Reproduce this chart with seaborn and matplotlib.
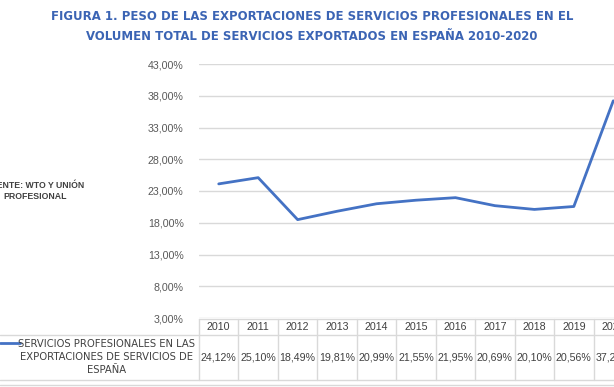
import numpy as np
import matplotlib
matplotlib.use("Agg")
import matplotlib.pyplot as plt
import matplotlib.transforms as mtransforms
import seaborn as sns
import pandas as pd

# datos del gráfico
years = ["2010", "2011", "2012", "2013", "2014", "2015", "2016", "2017", "2018", "2019", "2020"]
values = [24.12, 25.10, 18.49, 19.81, 20.99, 21.55, 21.95, 20.69, 20.10, 20.56, 37.20]
value_labels = ["24,12%", "25,10%", "18,49%", "19,81%", "20,99%", "21,55%", "21,95%",
                "20,69%", "20,10%", "20,56%", "37,20%"]
y_ticks = [3, 8, 13, 18, 23, 28, 33, 38, 43]
series_name = "SERVICIOS PROFESIONALES EN LAS\nEXPORTACIONES DE SERVICIOS DE\nESPAÑA"
title = ("FIGURA 1. PESO DE LAS EXPORTACIONES DE SERVICIOS PROFESIONALES EN EL\n"
         "VOLUMEN TOTAL DE SERVICIOS EXPORTADOS EN ESPAÑA 2010-2020")
source = "FUENTE: WTO Y UNIÓN\nPROFESIONAL"

df = pd.DataFrame({"pos": np.arange(len(years)), "valor": values})

sns.set_style("white")
plt.rcParams["font.family"] = ["Liberation Sans", "DejaVu Sans"]

W, H = 614, 387
fig = plt.figure(figsize=(W / 100, H / 100), dpi=100)
ax = fig.add_axes([199 / W, 1 - 318 / H, (633 - 199) / W, 254 / H])

line_color = "#4472C4"
grid_color = "#D9D9D9"
text_color = "#404040"

sns.lineplot(data=df, x="pos", y="valor", ax=ax, color=line_color, linewidth=2.0)

ax.set_xlim(-0.5, len(years) - 0.5)
ax.set_ylim(3, 43)
ax.set_yticks(y_ticks)
ax.set_yticklabels([f"{t},00%" for t in y_ticks], fontsize=7.7, color="#595959")
ax.set_xticks([])
ax.set_xlabel("")
ax.set_ylabel("")
ax.tick_params(axis="y", length=0, pad=11)
for t in y_ticks:
    ax.axhline(t, color=grid_color, linewidth=1, zorder=0)
for s in ax.spines.values():
    s.set_visible(False)

# tabla de datos bajo el eje
trans = mtransforms.blended_transform_factory(ax.transData, fig.transFigure)
y_top = 1 - 319 / H
y_mid = 1 - 335 / H
y_bot = 1 - 380 / H
n = len(years)
for i in range(n + 1):
    ax.plot([i - 0.5, i - 0.5], [y_top, y_bot], transform=trans, color=grid_color,
            linewidth=1, clip_on=False)
ax.plot([-0.5, n - 0.5], [y_top, y_top], transform=trans, color=grid_color, linewidth=1, clip_on=False)
for i, (yr, lab) in enumerate(zip(years, value_labels)):
    ax.text(i, (y_top + y_mid) / 2, yr, transform=trans, ha="center", va="center",
            fontsize=7.7, color=text_color)
    ax.text(i, (y_mid + y_bot) / 2, lab, transform=trans, ha="center", va="center",
            fontsize=7.7, color=text_color)
fig.add_artist(plt.Line2D([0, 1.05], [y_mid, y_mid], color=grid_color, linewidth=1))
fig.add_artist(plt.Line2D([0, 1.05], [y_bot, y_bot], color=grid_color, linewidth=1))
fig.add_artist(plt.Line2D([0, 1.05], [1 - 385 / H, 1 - 385 / H], color=grid_color, linewidth=1))

# etiqueta de la serie con su marca de leyenda
fig.add_artist(plt.Line2D([0, 20 / W], [1 - 343 / H, 1 - 343 / H], color=line_color, linewidth=2.0))
fig.text(107 / W, 1 - 357 / H, series_name, ha="center", va="center", fontsize=8.0,
         color=text_color, linespacing=1.4,
         family=["DejaVu Sans"], stretch="condensed")

# fuente
fig.text(35 / W, 1 - 191 / H, source, ha="center", va="center", fontsize=6.3,
         fontweight="bold", color=text_color, linespacing=1.25)

# título
fig.text(312 / W, 1 - 27 / H, title, ha="center", va="center", fontsize=9.4, fontweight="bold",
         color="#3B64B4", linespacing=1.7,
         family=["DejaVu Sans"], stretch="condensed")

fig.savefig("out.png", dpi=100)
